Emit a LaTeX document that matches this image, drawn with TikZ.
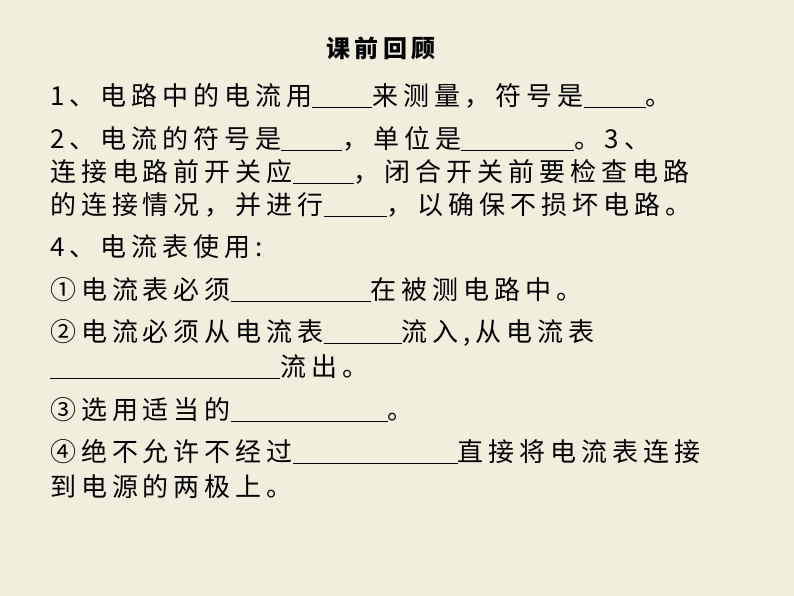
\documentclass[tikz,border=0pt]{standalone}
\usepackage{fontspec}
\setmainfont[LetterSpace=19]{Noto Sans CJK SC}
\definecolor{paper}{RGB}{242,238,222}
\newcommand\blank[1]{\underline{\hspace{#1pt}}}
\begin{document}
\begin{tikzpicture}[x=1pt,y=-1pt,
  line/.style={anchor=west, inner sep=0pt, font=\fontsize{26}{30}\selectfont}
]
\fill[paper] (0,0) rectangle (794,596);
\useasboundingbox (0,0) rectangle (794,596);

% title
\node[line, font=\bfseries\fontsize{24}{28}\selectfont, anchor=center] (title) at (381,48) {课前回顾};

% questions
\node[line] (q1) at (50,96) {1、电路中的电流用\blank{60}来测量，符号是\blank{62}。};
\node[line] (q2) at (50,139) {2、电流的符号是\blank{61}，单位是\blank{113}。3、};
\node[line] (q2b) at (50,172) {连接电路前开关应\blank{61}，闭合开关前要检查电路};
\node[line] (q2c) at (50,205) {的连接情况，并进行\blank{63}，以确保不损坏电路。};
\node[line] (q4) at (50,247) {4、电流表使用:};
\node[line] (q4a) at (50,290) {①电流表必须\blank{140}在被测电路中。};
\node[line] (q4b) at (50,333) {②电流必须从电流表\blank{78}流入,从电流表};
\node[line] (q4bb) at (50,367) {\blank{230}流出。};
\node[line] (q4c) at (50,410) {③选用适当的\blank{157}。};
\node[line] (q4d) at (50,452) {④绝不允许不经过\blank{165}直接将电流表连接};
\node[line] (q4dd) at (50,487) {到电源的两极上。};
\end{tikzpicture}
\end{document}
